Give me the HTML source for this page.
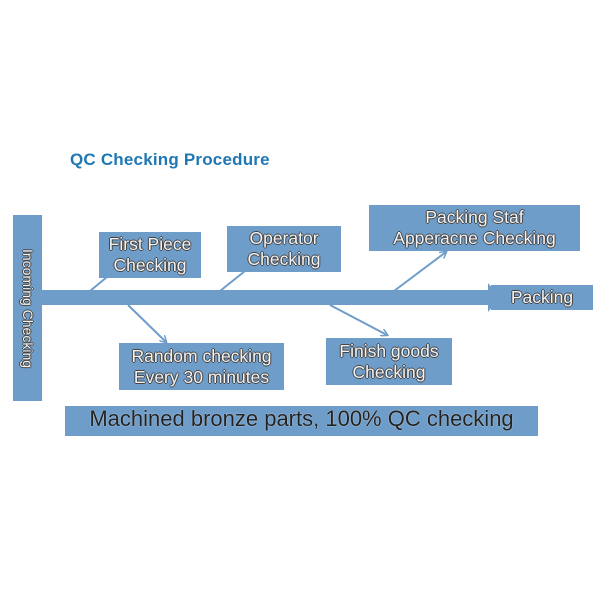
<!DOCTYPE html>
<html><head><style>
body{margin:0;width:600px;height:600px;background:#fff;position:relative;font-family:"Liberation Sans",sans-serif;overflow:hidden}
.b{position:absolute;background:#6f9dca;display:flex;align-items:center;justify-content:center;text-align:center;color:#f2f2f2;font-size:17.5px;line-height:21px;white-space:nowrap;text-shadow:-1px 0 #444,1px 0 #444,0 -1px #444,0 1px #444}
</style></head><body>
<div style="position:absolute;left:70px;top:150px;font-size:17px;font-weight:bold;color:#1f78b4;letter-spacing:0.2px">QC Checking Procedure</div>
<svg width="600" height="600" style="position:absolute;left:0;top:0">
<defs><marker id="a" markerWidth="8" markerHeight="8" refX="6" refY="4" orient="auto" markerUnits="userSpaceOnUse"><path d="M0,0L7,4L0,8" fill="none" stroke="#6f9dca" stroke-width="1.5"/></marker></defs>
<rect x="13" y="215" width="29" height="186" fill="#6f9dca"/>
<rect x="40" y="290" width="450" height="15" fill="#6f9dca"/>
<polygon points="488,283 500,297.5 488,312" fill="#6f9dca"/>
<g stroke="#6f9dca" stroke-width="2" fill="none">
<line x1="90" y1="291" x2="107" y2="277"/>
<line x1="220" y1="291" x2="245" y2="271"/>
<line x1="394" y1="291" x2="446" y2="252" marker-end="url(#a)"/>
<line x1="128" y1="305" x2="166" y2="342" marker-end="url(#a)"/>
<line x1="330" y1="305" x2="387" y2="335" marker-end="url(#a)"/>
</g>
</svg>
<div class="b" style="left:13px;top:215px;width:29px;height:186px"><span style="transform:rotate(90deg);white-space:nowrap;font-size:14px">Incoming Checking</span></div>
<div class="b" style="left:99px;top:232px;width:102px;height:46px">First Piece<br>Checking</div>
<div class="b" style="left:227px;top:226px;width:114px;height:46px">Operator<br>Checking</div>
<div class="b" style="left:369px;top:205px;width:211px;height:46px">Packing Staf<br>Apperacne Checking</div>
<div class="b" style="left:491px;top:285px;width:102px;height:25px">Packing</div>
<div class="b" style="left:119px;top:343px;width:165px;height:47px">Random checking<br>Every 30 minutes</div>
<div class="b" style="left:326px;top:338px;width:126px;height:47px">Finish goods<br>Checking</div>
<div class="b" style="left:65px;top:406px;width:473px;height:30px;font-size:22px;color:#222;text-shadow:0 0 1px #fff;align-items:flex-start;padding-top:2px;box-sizing:border-box">Machined bronze parts, 100% QC checking</div>
</body></html>
